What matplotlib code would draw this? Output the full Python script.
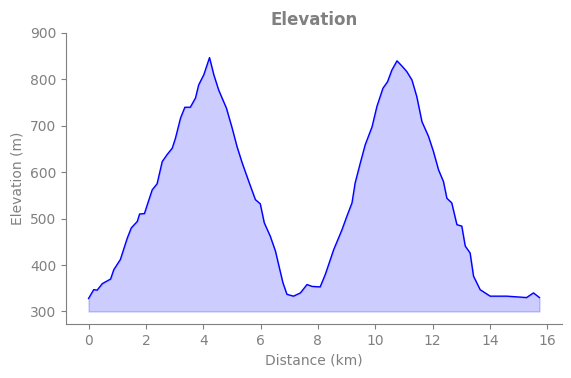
import matplotlib
matplotlib.use("Agg")
import matplotlib.pyplot as plt

# distance (km) and elevation (m)
distance = [0.00, 0.18, 0.30, 0.48, 0.77, 0.88, 1.11, 1.35, 1.49, 1.70, 1.78, 1.95,
            2.07, 2.22, 2.39, 2.57, 2.74, 2.92, 3.03, 3.21, 3.36, 3.55, 3.73, 3.84,
            4.02, 4.22, 4.37, 4.54, 4.81, 5.01, 5.18, 5.36, 5.59, 5.82, 5.99, 6.13,
            6.34, 6.52, 6.63, 6.78, 6.92, 7.15, 7.39, 7.62, 7.80, 8.08, 8.26, 8.55,
            8.84, 9.01, 9.19, 9.30, 9.48, 9.65, 9.89, 10.06, 10.27, 10.43, 10.58,
            10.76, 10.93, 11.10, 11.28, 11.45, 11.63, 11.86, 12.03, 12.21, 12.38,
            12.50, 12.67, 12.85, 13.02, 13.14, 13.31, 13.43, 13.66, 14.01, 14.59,
            15.28, 15.52, 15.73]
elevation = [328, 347, 346, 360, 370, 390, 412, 458, 480, 494, 510, 511,
             534, 562, 575, 623, 638, 652, 673, 717, 740, 740, 760, 788,
             810, 847, 810, 777, 738, 695, 655, 620, 580, 541, 532, 491,
             462, 430, 401, 362, 337, 333, 340, 358, 354, 353, 380, 433,
             476, 505, 534, 577, 620, 659, 698, 742, 781, 795, 820,
             840, 829, 817, 799, 763, 709, 677, 645, 605, 580,
             544, 534, 487, 484, 441, 426, 376, 347, 333, 333,
             330, 340, 330]
base = 300

fig, ax = plt.subplots(figsize=(5.71, 3.78), dpi=100)
ax.fill_between(distance, elevation, base, color="blue", alpha=0.2)
ax.plot(distance, elevation, color="blue", linewidth=1)

ax.set_ylim(273, 900)
ax.set_title("Elevation", color="gray", fontweight="bold")
ax.set_xlabel("Distance (km)", color="gray")
ax.set_ylabel("Elevation (m)", color="gray")
ax.tick_params(colors="gray")
for s in ["top", "right"]:
    ax.spines[s].set_visible(False)
for s in ["left", "bottom"]:
    ax.spines[s].set_color("gray")

fig.subplots_adjust(left=66 / 571, right=562 / 571, top=1 - 33 / 378, bottom=1 - 324 / 378)
plt.savefig("out.png", dpi=100)
